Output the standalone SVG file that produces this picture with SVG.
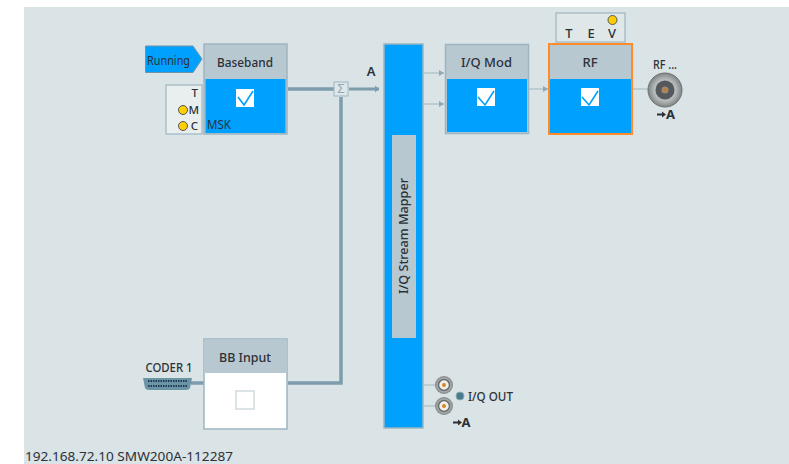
<svg xmlns="http://www.w3.org/2000/svg" width="789" height="464" viewBox="0 0 789 464">
<style>
text{font-family:"Noto Sans","Open Sans","Liberation Sans",sans-serif;fill:#2b3138;font-size:13px}
.t{font-weight:500;text-anchor:middle}
.s{font-weight:500;font-size:11.500px}
.b{fill:#b8c8d0;stroke:#9db5c1;stroke-width:1.5}
.f{fill:#00a0ff}
.wire{fill:none;stroke:#7d9cac;stroke-width:3.5}
.thin{fill:none;stroke:#9fb6c2;stroke-width:1}
.led{fill:#ffce00;stroke:#55585a;stroke-width:1}
.box{fill:#e9eeef;stroke:#9db5c1;stroke-width:1.2}
.chk{fill:none;stroke:#00a0ff;stroke-width:1.6}
</style>
<defs>
<marker id="ah" markerWidth="6" markerHeight="6" refX="5" refY="3" orient="auto" markerUnits="userSpaceOnUse"><path d="M0 0L5 3L0 6Z" fill="#8fa9b6"/></marker>
<marker id="ahw" markerWidth="6" markerHeight="8" refX="4" refY="4" orient="auto" markerUnits="userSpaceOnUse"><path d="M0 0.500L4 4L0 7.500Z" fill="#7d9cac"/></marker>
<radialGradient id="met"><stop offset="0" stop-color="#d8dcdc"/><stop offset="0.65" stop-color="#b4b8b9"/><stop offset="1" stop-color="#7f8485"/></radialGradient>
<g id="bnc"><circle r="9" fill="url(#met)"/><circle r="5.500" fill="#f3efe8" stroke="#6a6d70" stroke-width="1.500"/><circle r="2" fill="#d08a2a"/></g>
</defs>
<rect x="24" y="7" width="765" height="457" fill="#dae3e5"/>
<g id="connectors">
<path class="wire" d="M288 89H334"/>
<path class="wire" d="M349 89H379" marker-end="url(#ahw)" style="stroke-width:3"/>
<path class="wire" d="M341 97V383H288"/>
<path class="wire" d="M191 383H204"/>
<path class="thin" d="M424 73H444" marker-end="url(#ah)"/>
<path class="thin" d="M424 104H444" marker-end="url(#ah)"/>
<path class="thin" d="M528 89H548" marker-end="url(#ah)"/>
<path class="thin" d="M632 89H648"/>
<path class="thin" d="M424 385H436M424 406H436"/>
</g>
<g id="running"><path d="M145.500 46H193L202 59L193 72.500H145.500Z" fill="#00a0ff" stroke="#6f93a6"/><text x="147" y="64.500" font-size="13" textLength="43" lengthAdjust="spacingAndGlyphs">Running</text></g>
<g id="baseband">
<rect class="b" x="204" y="44" width="83" height="90"/><rect class="f" x="205.500" y="79" width="80" height="54"/>
<text class="t" x="245" y="66.500" font-size="13.500" textLength="56" lengthAdjust="spacingAndGlyphs">Baseband</text>
<rect x="236" y="89" width="18" height="18" fill="#fff"/><path class="chk" d="M238 97L244 105L253 91"/>
<text x="207" y="129" font-size="12.500" textLength="24" lengthAdjust="spacingAndGlyphs">MSK</text>
</g>
<g id="baseband-status">
<rect class="box" x="166" y="85" width="36" height="49"/>
<text class="s" x="198" y="97" text-anchor="end">T</text>
<circle class="led" cx="183" cy="110" r="4.500"/><text class="s" x="199" y="114" text-anchor="end">M</text>
<circle class="led" cx="183" cy="126" r="4.500"/><text class="s" x="198" y="130" text-anchor="end">C</text>
</g>
<g id="sum"><rect x="334" y="82" width="14" height="14" fill="#dfe7ea" stroke="#9db5c1"/><text x="341" y="93" text-anchor="middle" font-size="10" style="fill:#8fa9b6">Σ</text></g>
<text class="t" x="371" y="76" style="font-weight:600">A</text>
<g id="mapper">
<rect x="384" y="44" width="39" height="384" fill="#00a0ff" stroke="#9db5c1" stroke-width="1.500"/>
<rect x="392" y="135" width="24" height="203" fill="#b8c8d0"/>
<text class="t" transform="translate(407.500 236) rotate(-90)" font-size="13.500" textLength="116" lengthAdjust="spacingAndGlyphs">I/Q Stream Mapper</text>
</g>
<g id="iqmod">
<rect class="b" x="445.500" y="44.500" width="83" height="89"/><rect class="f" x="447" y="79" width="80" height="53"/>
<text class="t" x="486.500" y="66.500" font-size="13.500" textLength="51" lengthAdjust="spacingAndGlyphs">I/Q Mod</text>
<rect x="477" y="88" width="18" height="18" fill="#fff"/><path class="chk" d="M478 97L485 105L494 91"/>
</g>
<g id="rf">
<rect x="549" y="44" width="83" height="90" fill="#b8c8d0" stroke="#ff8a2a" stroke-width="2"/><rect class="f" x="550" y="79" width="81" height="54"/>
<text class="t" x="590" y="66.500" font-size="13.500">RF</text>
<rect x="581" y="88" width="18" height="18" fill="#fff"/><path class="chk" d="M582 97L589 105L598 91"/>
</g>
<g id="rf-status">
<rect class="box" x="556" y="13" width="69" height="29" style="fill:#dfe7e9"/>
<text class="t" x="569" y="38">T</text><text class="t" x="591" y="38">E</text><text class="t" x="612" y="38">V</text>
<circle class="led" cx="612.500" cy="20" r="4.500"/>
</g>
<g id="rf-out">
<text class="t" x="665" y="69" textLength="24" lengthAdjust="spacingAndGlyphs">RF ...</text>
<circle cx="665" cy="90" r="17" fill="url(#met)" stroke="#6f7274"/><circle cx="665" cy="90" r="9.500" fill="#55595d"/><circle cx="665" cy="90" r="3.500" fill="#a08a70"/><circle cx="665" cy="90" r="1.500" fill="#d07a20"/>
<path d="M657 113.500h5v-2l4 3l-4 3v-2h-5Z" fill="#2b3138"/><text x="666" y="119" font-size="11" font-weight="700">A</text>
</g>
<g id="bbinput">
<rect x="204" y="339" width="83" height="90" fill="#fff" stroke="#9db5c1" stroke-width="1.500"/><rect x="205" y="340" width="81" height="33" fill="#b8c8d0"/>
<text class="t" x="245" y="361.500" font-size="13.500" textLength="52" lengthAdjust="spacingAndGlyphs">BB Input</text>
<rect x="236" y="391" width="18" height="18" fill="#fff" stroke="#cfdade" stroke-width="1.500"/>
</g>
<g id="coder">
<text class="t" x="169" y="372" font-size="12" textLength="47" lengthAdjust="spacingAndGlyphs">CODER 1</text>
<path d="M143 378H192L190 388Q189 390 186 390H149Q146 390 145 388Z" fill="#6d93a6"/>
<path d="M148 381H188M148 386H188" stroke="#1d3c52" stroke-width="2" stroke-dasharray="1.500 1"/>
</g>
<g id="iqout">
<use href="#bnc" x="444" y="385"/><use href="#bnc" x="444" y="406"/>
<circle cx="460" cy="396" r="4" fill="#4a7a92" stroke="#8aa"/>
<text x="468" y="400.500" font-weight="500" font-size="13" textLength="45" lengthAdjust="spacingAndGlyphs">I/Q OUT</text>
<path d="M453 421.500h5v-2l4 3l-4 3v-2h-5Z" fill="#2b3138"/><text x="461.500" y="427" font-size="11" font-weight="700">A</text>
</g>
<text x="25" y="461" font-size="15.500" textLength="208" lengthAdjust="spacingAndGlyphs">192.168.72.10 SMW200A-112287</text>
</svg>
